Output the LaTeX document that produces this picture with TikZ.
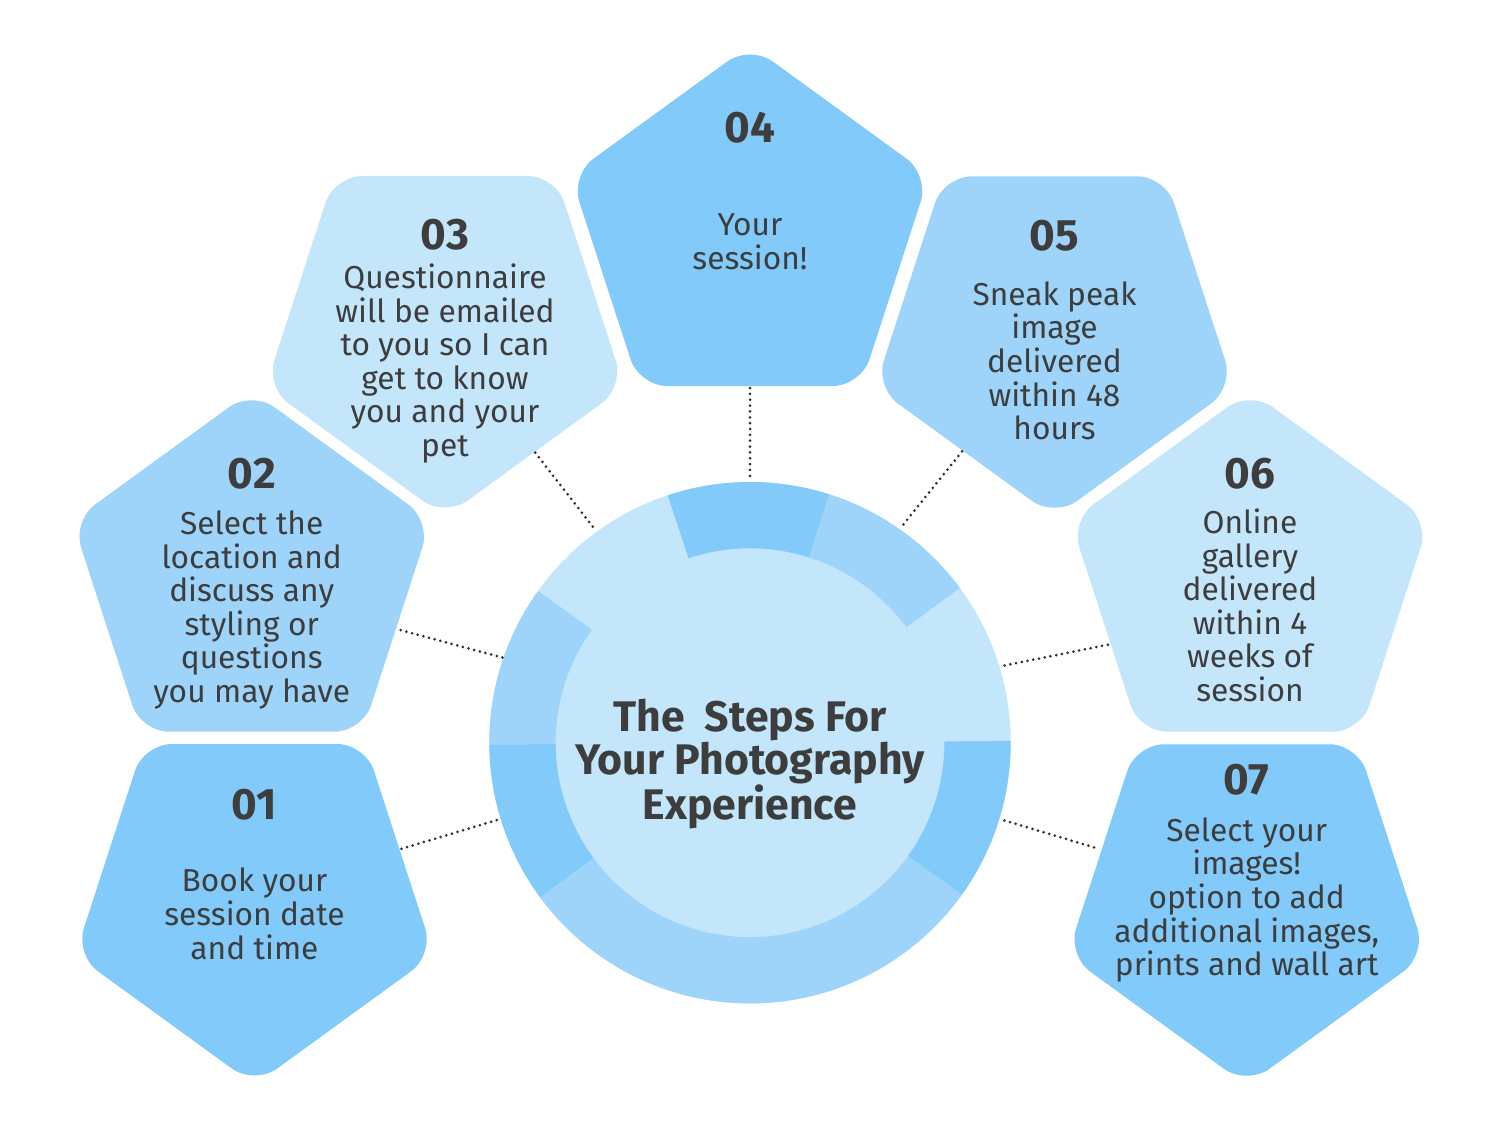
\documentclass[tikz,border=0pt]{standalone}
\usepackage{fontspec}
\setmainfont{Fira Sans}
\usetikzlibrary{shapes.geometric}
\definecolor{cdark}{HTML}{82CAF9}
\definecolor{cmed}{HTML}{9ED4FA}
\definecolor{clight}{HTML}{C4E6FB}
\definecolor{ctext}{HTML}{3D3D3D}
\definecolor{cdot}{HTML}{333333}
\tikzset{
  penta/.style={regular polygon, regular polygon sides=5, minimum size=377bp, inner sep=0pt, outer sep=0pt, rounded corners=28bp, draw=none},
  pentadown/.style={penta, shape border rotate=180},
  numlabel/.style={font=\fontsize{44bp}{46bp}\selectfont\bfseries, text=ctext, inner sep=0pt, anchor=center},
  bodytext/.style={font=\fontsize{31.7bp}{33.6bp}\selectfont, text=ctext, inner sep=0pt, align=center, anchor=north},
  titletext/.style={font=\fontsize{42.8bp}{42.8bp}\selectfont\bfseries, text=ctext, inner sep=0pt, align=center, anchor=north},
  dotline/.style={draw=cdot, line width=3bp, line cap=round, dash pattern=on 0bp off 5.85bp},
}
\newcommand{\bstrut}{\rule{0pt}{26bp}}
\newcommand{\tstrut}{\rule{0pt}{36bp}}
\begin{document}
\begin{tikzpicture}[x=1bp, y=-1bp]
\useasboundingbox (0,0) rectangle (1500,1125);
\fill[white] (0,0) rectangle (1500,1125);

% pentagons
\node[pentadown, fill=cdark]  (p1) at (254.5,896.5) {};
\node[penta,     fill=cmed]   (p2) at (251.7,579.2) {};
\node[pentadown, fill=clight] (p3) at (445,328.5) {};
\node[penta,     fill=cdark]  (p4) at (750,233.5) {};
\node[pentadown, fill=cmed]   (p5) at (1054.5,328.8) {};
\node[penta,     fill=clight] (p6) at (1250,579.2) {};
\node[pentadown, fill=cdark]  (p7) at (1246.7,896.8) {};

% central ring
\node[circle, minimum size=521.4bp, inner sep=0pt, outer sep=0pt, fill=clight] (ring) at (750,742.7) {};
\begin{scope}[shift={(750,742.7)}, x=1bp, y=1bp, rotate=0.4]
  \fill[cmed] (36:194.4) -- (36:260.7) arc[start angle=36, end angle=72, radius=260.7] -- (72:194.4) arc[start angle=72, end angle=36, radius=194.4] -- cycle;
  \fill[cdark] (72:194.4) -- (72:260.7) arc[start angle=72, end angle=108, radius=260.7] -- (108:194.4) arc[start angle=108, end angle=72, radius=194.4] -- cycle;
  \fill[cmed] (144:194.4) -- (144:260.7) arc[start angle=144, end angle=180, radius=260.7] -- (180:194.4) arc[start angle=180, end angle=144, radius=194.4] -- cycle;
  \fill[cdark] (180:194.4) -- (180:260.7) arc[start angle=180, end angle=216, radius=260.7] -- (216:194.4) arc[start angle=216, end angle=180, radius=194.4] -- cycle;
  \fill[cmed] (216:194.4) -- (216:260.7) arc[start angle=216, end angle=324, radius=260.7] -- (324:194.4) arc[start angle=324, end angle=216, radius=194.4] -- cycle;
  \fill[cdark] (324:194.4) -- (324:260.7) arc[start angle=324, end angle=360, radius=260.7] -- (360:194.4) arc[start angle=360, end angle=324, radius=194.4] -- cycle;
\end{scope}

% connectors
\draw[dotline, shorten <=2bp, shorten >=3bp] (p1.18) -- (ring.197);
\draw[dotline, shorten <=5bp, shorten >=1bp] (p2.-19) -- (ring.161);
\draw[dotline, shorten <=1bp, shorten >=6bp] (p3.-54) -- (ring.126);
\draw[dotline, shorten <=2bp, shorten >=6bp] (p4.-90) -- (ring.90);
\draw[dotline, shorten <=1bp, shorten >=1bp] (p5.233) -- (ring.55);
\draw[dotline, shorten <=3bp, shorten >=1bp] (p6.205) -- (ring.17);
\draw[dotline, shorten <=8bp, shorten >=1bp] (p7.162) -- (ring.-17);

% numbers
\node[numlabel] (n1) at (254.5,805) {01};
\node[numlabel] (n2) at (251.7,473.8) {02};
\node[numlabel] (n3) at (445,234.5) {03};
\node[numlabel] (n4) at (750,127.3) {04};
\node[numlabel] (n5) at (1054.5,235.3) {05};
\node[numlabel] (n6) at (1250,473.2) {06};
\node[numlabel] (n7) at (1246.7,779.8) {07};

% body texts
\node[bodytext] (t1) at (254.5,865.7) {\bstrut Book your\\session date\\and time};
\node[bodytext] (t2) at (251.7,508.3) {\bstrut Select the\\location and\\discuss any\\styling or\\questions\\you may have};
\node[bodytext] (t3) at (445,262.3) {\bstrut Questionnaire\\will be emailed\\to you so I can\\get to know\\you and your\\pet};
\node[bodytext] (t4) at (750,209.7) {\bstrut Your\\session!};
\node[bodytext] (t5) at (1054.5,279) {\bstrut Sneak peak\\image\\delivered\\within 48\\hours};
\node[bodytext] (t6) at (1250,507.3) {\bstrut Online\\gallery\\delivered\\within 4\\weeks of\\session};
\node[bodytext] (t7) at (1246.7,815) {\bstrut Select your\\images!\\option to add\\additional images,\\prints and wall art};

% title
\node[titletext] (title) at (750,695.7) {\tstrut The\ \ Steps For\\Your Photography\\Experience};
\end{tikzpicture}
\end{document}
